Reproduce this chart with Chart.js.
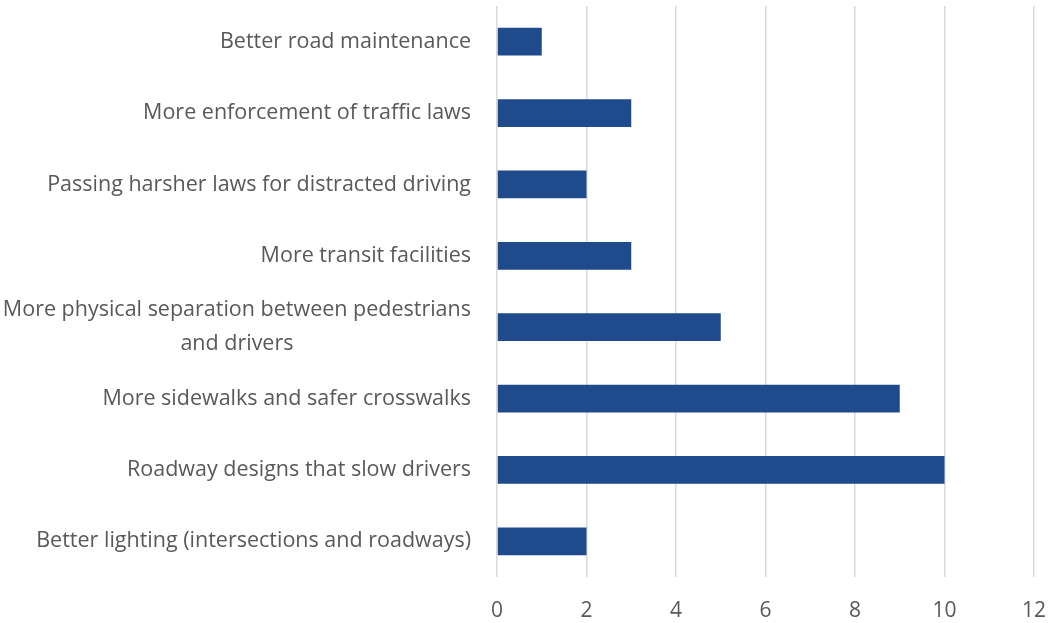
<!DOCTYPE html>
<html>
<head>
<meta charset="utf-8">
<script src="https://cdn.jsdelivr.net/npm/chart.js@4/dist/chart.umd.min.js"></script>
<style>
    html, body { margin: 0; padding: 0; background: #ffffff; }
    #wrap { width: 1048px; height: 623px; position: relative; }
</style>
</head>
<body>
<div id="wrap"><canvas id="chart"></canvas></div>
<script>
// Categories, top to bottom as they appear
const categories = [
    'Better road maintenance',
    'More enforcement of traffic laws',
    'Passing harsher laws for distracted driving',
    'More transit facilities',
    ['More physical separation between pedestrians', 'and drivers'],
    'More sidewalks and safer crosswalks',
    'Roadway designs that slow drivers',
    'Better lighting (intersections and roadways)'
];

// Responses per category
const responses = [1, 3, 2, 3, 5, 9, 10, 2];

// X axis ticks
const xMin = 0;
const xMax = 12;
const xStep = 2;

const BAR_COLOR = '#1f4a8c';
const GRID_COLOR = '#d9d9d9';
const TEXT_COLOR = '#595959';
const FONT_FAMILY = '"Open Sans", sans-serif';
const FONT_SIZE = 21.5;

// Draws the category labels: right aligned, wrapped lines centred on each other
const categoryLabels = {
    id: 'categoryLabels',
    afterDraw(chart) {
        const ctx = chart.ctx;
        const yScale = chart.scales.y;
        const right = yScale.right - 26;
        const lineHeight = 34;
        ctx.save();
        ctx.font = FONT_SIZE + 'px ' + FONT_FAMILY;
        ctx.fillStyle = TEXT_COLOR;
        ctx.textBaseline = 'middle';
        ctx.textAlign = 'center';
        categories.forEach((label, i) => {
            const lines = Array.isArray(label) ? label : [label];
            const widest = Math.max(...lines.map(l => ctx.measureText(l).width));
            const cx = right - widest / 2;
            const cy = yScale.getPixelForTick(i);
            const top = cy - (lines.length - 1) * lineHeight / 2;
            lines.forEach((line, j) => {
                ctx.fillText(line, cx, top + j * lineHeight);
            });
        });
        ctx.restore();
    }
};

new Chart(document.getElementById('chart').getContext('2d'), {
    type: 'bar',
    data: {
        labels: categories,
        datasets: [{
            data: responses,
            backgroundColor: BAR_COLOR,
            barPercentage: 0.39,
            categoryPercentage: 1
        }]
    },
    options: {
        indexAxis: 'y',
        responsive: true,
        maintainAspectRatio: false,
        animation: false,
        layout: {
            padding: { top: 6, right: 0, bottom: 0, left: 0 }
        },
        plugins: {
            legend: { display: false },
            tooltip: { enabled: false }
        },
        scales: {
            x: {
                min: xMin,
                max: xMax,
                border: { display: false },
                grid: {
                    color: GRID_COLOR,
                    lineWidth: 1.5,
                    drawTicks: false
                },
                ticks: {
                    stepSize: xStep,
                    padding: 21,
                    color: TEXT_COLOR,
                    font: { family: FONT_FAMILY, size: 21 }
                },
                afterFit(scale) {
                    scale.height = 46;
                    scale.paddingRight = 14;
                }
            },
            y: {
                border: { display: false },
                grid: { display: false },
                ticks: { display: false },
                afterFit(scale) {
                    scale.width = 497;
                }
            }
        }
    },
    plugins: [categoryLabels]
});
</script>
</body>
</html>
